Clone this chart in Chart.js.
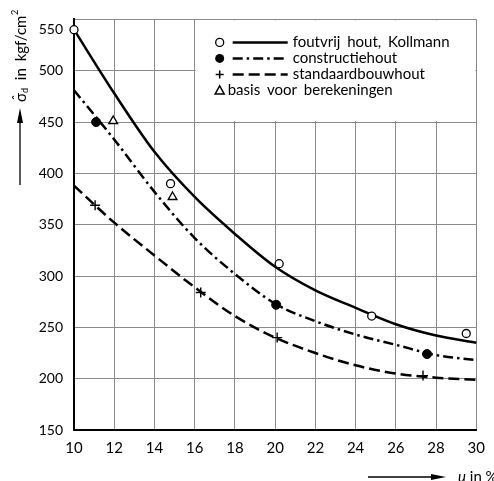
<!DOCTYPE html>
<html>
<head>
<meta charset="utf-8">
<script src="https://cdn.jsdelivr.net/npm/chart.js@4.4.1/dist/chart.umd.min.js"></script>
<style>
  html, body { margin: 0; padding: 0; background: #fff; }
  #c { display: block; }
</style>
</head>
<body>
<canvas id="c" width="494" height="481"></canvas>
<script>
// ---- data ----
const curveX = [10, 12, 14, 16, 18, 20, 22, 24, 26, 28, 30];
const kollmannCurve    = [540, 478, 421, 377, 341, 309, 286, 269, 253, 242, 235];
const constructieCurve = [481, 433, 382, 337, 302, 273, 256, 243, 233, 223, 218];
const standaardCurve   = [388, 352, 320, 289, 261, 240, 225, 213, 205, 201, 199];

const kollmannPtsX    = [10, 14.8, 20.2, 24.8, 29.5];
const kollmannPtsY    = [540, 390, 312, 261, 244];
const constructiePtsX = [11.1, 20.05, 27.55];
const constructiePtsY = [450, 272, 224];
const standaardPtsX   = [11.05, 16.3, 20.1, 27.35];
const standaardPtsY   = [369, 284, 240, 203];
const basisPtsX       = [11.95, 14.9];
const basisPtsY       = [451, 377];

const seriesNames = ['foutvrij hout, Kollmann', 'constructiehout', 'standaardbouwhout', 'basis voor berekeningen'];
const xTicks = [10, 12, 14, 16, 18, 20, 22, 24, 26, 28, 30];
const yTicks = [150, 200, 250, 300, 350, 400, 450, 500, 550];
const yTitleParts = { sym: 'σ', hat: 'ˆ', sub: 'd', mid: ' in kgf/cm', sup: '2' };
const xTitleParts = { sym: 'u', rest: ' in %' };

// ---- helpers ----
const zip = (xs, ys) => xs.map((x, i) => ({ x: x, y: ys[i] }));
const FONT = 'Lato, "Open Sans", sans-serif';
const DASHDOT = [10, 4, 2.5, 4];
const DASHED = [11, 5];

const legendPlugin = {
  id: 'customDecor',
  afterDraw(chart) {
    const ctx = chart.ctx;
    const xs = chart.scales.x, ys = chart.scales.y;
    // legend box occupying grid cells x 16..30, y 450..550
    const l = xs.getPixelForValue(16), r = xs.getPixelForValue(30);
    const t = ys.getPixelForValue(550), b = ys.getPixelForValue(450);
    ctx.save();
    ctx.fillStyle = '#fff';
    ctx.fillRect(l + 1, t + 1, r - l - 2, b - t - 2);

    const mx = l + 25, lx0 = l + 38, lx1 = l + 93, tx = l + 98;
    const rows = [t + 23, t + 39, t + 55, t + 71];
    ctx.strokeStyle = '#000';
    ctx.fillStyle = '#000';
    ctx.font = '15px ' + FONT;
    ctx.textBaseline = 'middle';
    ctx.textAlign = 'left';
    try { ctx.wordSpacing = '3px'; } catch (e) {}
    // row 1: open circle + solid
    ctx.lineWidth = 1.3;
    ctx.beginPath(); ctx.arc(mx, rows[0], 4, 0, Math.PI * 2); ctx.stroke();
    ctx.lineWidth = 2.5; ctx.setLineDash([]);
    ctx.beginPath(); ctx.moveTo(lx0, rows[0]); ctx.lineTo(lx1, rows[0]); ctx.stroke();
    ctx.fillText(seriesNames[0], tx, rows[0]);
    // row 2: filled circle + dash-dot
    ctx.beginPath(); ctx.arc(mx, rows[1], 4.5, 0, Math.PI * 2); ctx.fill();
    ctx.setLineDash(DASHDOT);
    ctx.beginPath(); ctx.moveTo(lx0, rows[1]); ctx.lineTo(lx1, rows[1]); ctx.stroke();
    ctx.setLineDash([]);
    ctx.fillText(seriesNames[1], tx, rows[1]);
    // row 3: plus + dashed
    ctx.lineWidth = 1.5;
    ctx.beginPath(); ctx.moveTo(mx - 4, rows[2]); ctx.lineTo(mx + 4, rows[2]);
    ctx.moveTo(mx, rows[2] - 4); ctx.lineTo(mx, rows[2] + 4); ctx.stroke();
    ctx.lineWidth = 2.5; ctx.setLineDash(DASHED);
    ctx.beginPath(); ctx.moveTo(lx0, rows[2]); ctx.lineTo(lx1, rows[2]); ctx.stroke();
    ctx.setLineDash([]);
    ctx.fillText(seriesNames[2], tx, rows[2]);
    // row 4: triangle
    ctx.lineWidth = 1.5;
    ctx.beginPath(); ctx.moveTo(mx, rows[3] - 4.5); ctx.lineTo(mx + 4.5, rows[3] + 3.5);
    ctx.lineTo(mx - 4.5, rows[3] + 3.5); ctx.closePath(); ctx.stroke();
    ctx.fillText(seriesNames[3], mx + 8, rows[3]);
    try { ctx.wordSpacing = '0px'; } catch (e) {}

    // top y tick label (shifted down like the reference)
    ctx.font = '14px ' + FONT;
    ctx.textAlign = 'right';
    ctx.fillText(String(yTicks[yTicks.length - 1]), xs.left - 11, t + 10);

    // y axis title (rotated) with arrow
    ctx.save();
    ctx.translate(21, 102);
    ctx.rotate(-Math.PI / 2);
    ctx.textAlign = 'left';
    ctx.textBaseline = 'middle';
    ctx.font = '15px ' + FONT;
    try { ctx.wordSpacing = '3px'; } catch (e) {}
    let px = 0;
    ctx.fillText(yTitleParts.sym, px, 0);
    const ws = ctx.measureText(yTitleParts.sym).width;
    ctx.textAlign = 'center';
    ctx.font = '13px ' + FONT;
    ctx.fillText(yTitleParts.hat, px + ws / 2, -3);
    ctx.textAlign = 'left';
    px += ws;
    ctx.font = '9px ' + FONT;
    ctx.fillText(yTitleParts.sub, px, 4);
    px += ctx.measureText(yTitleParts.sub).width + 1;
    ctx.font = '15px ' + FONT;
    ctx.fillText(yTitleParts.mid, px, 0);
    px += ctx.measureText(yTitleParts.mid).width;
    ctx.font = '9px ' + FONT;
    ctx.fillText(yTitleParts.sup, px + 0.5, -6);
    try { ctx.wordSpacing = '0px'; } catch (e) {}
    ctx.restore();

    ctx.lineWidth = 1.3; ctx.setLineDash([]);
    ctx.beginPath(); ctx.moveTo(20, 185); ctx.lineTo(20, 118); ctx.stroke();
    ctx.beginPath(); ctx.moveTo(20, 108); ctx.lineTo(23, 123); ctx.lineTo(17, 123); ctx.closePath(); ctx.fill();

    // x axis title with arrow
    ctx.beginPath(); ctx.moveTo(368, 477); ctx.lineTo(436, 477); ctx.stroke();
    ctx.beginPath(); ctx.moveTo(446, 477); ctx.lineTo(431, 474); ctx.lineTo(431, 480); ctx.closePath(); ctx.fill();
    ctx.textAlign = 'left';
    ctx.textBaseline = 'middle';
    ctx.font = 'italic 15px ' + FONT;
    ctx.fillText(xTitleParts.sym, 458, 477);
    const wu = ctx.measureText(xTitleParts.sym).width;
    ctx.font = '15px ' + FONT;
    ctx.fillText(xTitleParts.rest, 458 + wu, 477);
    ctx.restore();
  }
};

const lineDs = (data, dash) => ({
  type: 'scatter', showLine: true, data: data,
  borderColor: '#000', borderWidth: 2.5, borderDash: dash,
  pointRadius: 0, pointHoverRadius: 0, fill: false,
  cubicInterpolationMode: 'monotone', clip: false, order: 2
});
const ptDs = (data, style, bg, radius, bw) => ({
  type: 'scatter', data: data, showLine: false,
  pointStyle: style, pointRadius: radius, pointHoverRadius: radius,
  pointBackgroundColor: bg, pointBorderColor: '#000', pointBorderWidth: bw,
  clip: false, order: 1
});

new Chart(document.getElementById('c'), {
  type: 'scatter',
  data: {
    datasets: [
      lineDs(zip(curveX, kollmannCurve), []),
      lineDs(zip(curveX, constructieCurve), DASHDOT),
      lineDs(zip(curveX, standaardCurve), DASHED),
      ptDs(zip(kollmannPtsX, kollmannPtsY), 'circle', '#fff', 4, 1.3),
      ptDs(zip(constructiePtsX, constructiePtsY), 'circle', '#000', 4.5, 1),
      ptDs(zip(standaardPtsX, standaardPtsY), 'cross', '#000', 5, 1.4),
      ptDs(zip(basisPtsX, basisPtsY), 'triangle', '#fff', 5, 1.4)
    ]
  },
  options: {
    responsive: false,
    animation: false,
    devicePixelRatio: 1,
    layout: { padding: { left: 0, top: 15, right: 8, bottom: 0 } },
    plugins: { legend: { display: false }, tooltip: { enabled: false } },
    scales: {
      x: {
        type: 'linear', min: 10, max: 30,
        afterFit: s => { s.height = 51; },
        afterBuildTicks: s => { s.ticks = xTicks.map(v => ({ value: v })); },
        grid: { color: '#8a8a8a', lineWidth: 1, drawTicks: false },
        border: { color: '#000', width: 2 },
        ticks: { color: '#000', padding: 9, font: { family: FONT, size: 15 }, maxRotation: 0, autoSkip: false }
      },
      y: {
        type: 'linear', min: 150, max: 550,
        afterFit: s => { s.width = 74; },
        afterBuildTicks: s => { s.ticks = yTicks.map(v => ({ value: v })); },
        grid: { color: '#8a8a8a', lineWidth: 1, drawTicks: false },
        border: { color: '#000', width: 2 },
        ticks: { color: '#000', padding: 11, font: { family: FONT, size: 14 },
                 callback: v => (v === yTicks[yTicks.length - 1] ? '' : String(v)) }
      }
    }
  },
  plugins: [legendPlugin]
});
</script>
</body>
</html>
